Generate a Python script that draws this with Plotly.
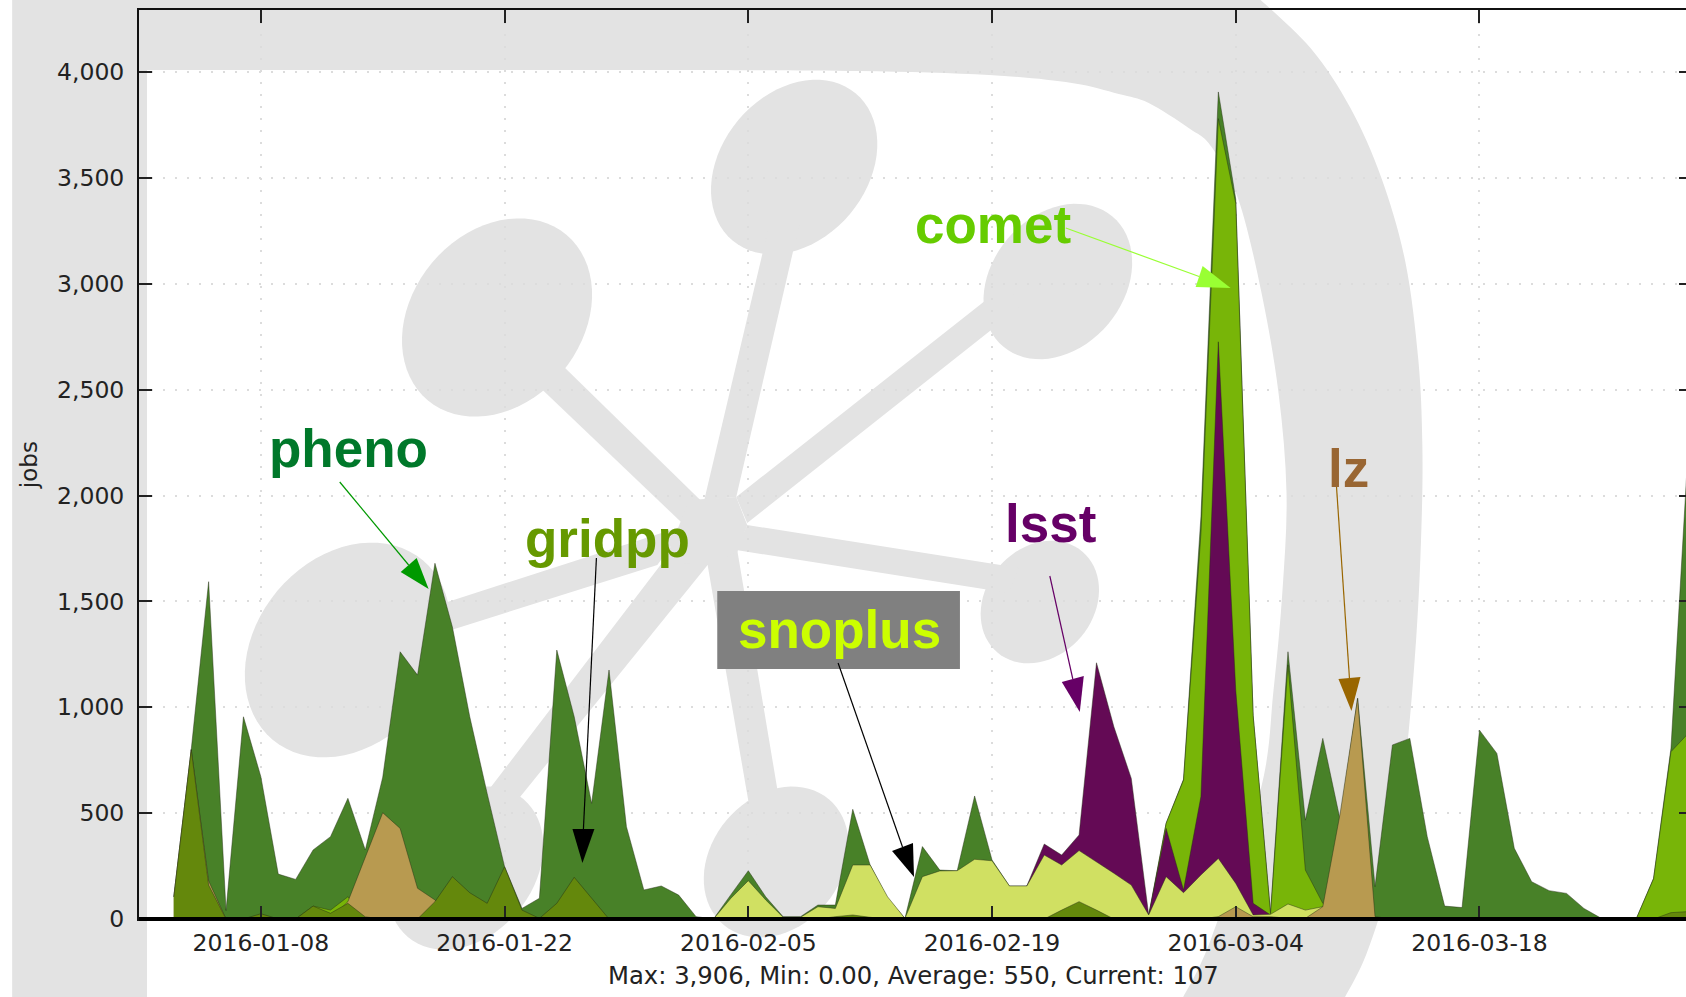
import numpy as np
import pandas as pd
import plotly.graph_objects as go

# ---- data (daily values, first point 2016-01-03) ----
START_DATE = "2016-01-03"
pheno = [105,800,1593,40,955,672,212,187,326,389,
         570,326,670,1262,1152,1680,1380,955,593,247,
         50,98,1270,955,546,1176,436,137,156,113,
         11,0,115,228,105,11,11,66,66,518,
         255,98,3,342,231,228,581,279,156,156,
         302,255,323,271,216,160,19,452,660,1900,
         3906,3400,960,27,1262,467,853,467,1042,153,
         822,853,389,61,54,892,782,334,176,134,
         121,50,3,0,0,192,806,2240]
comet = [0,0,0,0,0,0,0,0,61,42,
         105,0,0,0,0,0,0,0,0,0,
         0,0,0,0,0,0,0,0,0,0,
         0,0,0,0,0,0,0,0,0,0,
         0,0,0,0,0,0,0,0,0,0,
         0,0,0,0,0,0,10,452,656,1820,
         3780,3380,960,25,1200,231,74,10,0,0,
         0,0,0,0,0,0,0,0,0,0,
         0,0,0,0,0,190,790,877]
lsst = [0,0,0,0,0,0,0,0,0,0,
        0,0,0,0,0,0,0,0,0,0,
        0,0,0,0,0,0,0,0,0,0,
        0,0,0,0,0,0,0,0,0,0,
        0,0,0,0,0,0,0,0,0,156,
        354,302,397,1210,908,664,19,428,137,578,
        2726,1080,74,19,0,0,0,0,0,0,
        0,0,0,0,0,0,0,0,0,0,
        0,0,0,0,0,0,0,0]
snoplus = [0,0,0,0,0,0,0,0,0,0,
           0,0,0,0,0,0,0,0,0,0,
           0,0,0,0,0,0,0,0,0,0,
           0,0,98,181,90,8,8,58,50,255,
           255,105,3,200,227,228,282,275,156,156,
           302,255,323,271,216,160,19,200,124,208,
           286,168,19,22,71,42,58,0,0,0,
           0,0,0,0,0,0,0,0,0,0,
           0,0,0,0,0,0,0,0]
lz = [105,800,180,0,0,0,0,0,0,0,
      82,294,502,428,145,90,0,0,0,0,
      0,0,0,0,0,0,0,0,0,0,
      0,0,0,0,0,0,0,0,0,0,
      0,0,0,0,0,0,0,0,0,0,
      0,0,0,0,0,0,0,0,0,0,
      11,58,11,11,3,3,58,500,1042,11,
      0,0,0,0,0,0,0,0,0,0,
      0,0,0,0,0,0,0,0]
gridpp = [105,800,160,0,0,25,0,0,61,27,
          74,10,0,0,0,82,200,124,74,247,
          42,3,74,197,98,0,0,0,0,0,
          0,0,0,0,0,0,0,0,11,19,
          8,0,0,0,0,0,0,0,0,0,
          0,42,82,42,0,0,0,0,0,0,
          0,0,0,0,0,0,0,0,0,0,
          0,0,0,0,0,0,0,0,0,0,
          0,0,0,0,0,0,30,35]
y_ticks = [0, 500, 1000, 1500, 2000, 2500, 3000, 3500, 4000]
x_ticks = ["2016-01-08", "2016-01-22", "2016-02-05", "2016-02-19", "2016-03-04", "2016-03-18"]
summary = "Max: 3,906, Min: 0.00, Average: 550, Current: 107"
y_title = "jobs"

# ---- style ----
series = [("pheno", pheno, "#488128"), ("comet", comet, "#78b508"), ("lsst", lsst, "#640a55"),
          ("snoplus", snoplus, "#d0e062"), ("lz", lz, "#b89a50"), ("gridpp", gridpp, "#64880c")]
W, H = 1700, 997
L, R, T, B = 139, 1694, 10, 919
GRAY = "#e3e3e3"

def px(x): return (x - L) / (R - L)
def py(y): return (B - y) / (B - T)

def smooth(points):
    """Catmull-Rom path through pixel points, in paper coordinates."""
    p = [(px(a), py(b)) for a, b in points]
    s = f"M{p[0][0]:.5f},{p[0][1]:.5f}"
    for i in range(len(p) - 1):
        p0 = p[max(i - 1, 0)]; p1 = p[i]; p2 = p[i + 1]; p3 = p[min(i + 2, len(p) - 1)]
        c1 = (p1[0] + (p2[0] - p0[0]) / 6, p1[1] + (p2[1] - p0[1]) / 6)
        c2 = (p2[0] - (p3[0] - p1[0]) / 6, p2[1] - (p3[1] - p1[1]) / 6)
        s += f" C{c1[0]:.5f},{c1[1]:.5f} {c2[0]:.5f},{c2[1]:.5f} {p2[0]:.5f},{p2[1]:.5f}"
    return s

def poly(points):
    return "M" + " L".join(f"{px(a):.5f},{py(b):.5f}" for a, b in points) + " Z"

def ellipse(cx, cy, a, b, deg=50):
    t = np.linspace(0, 2 * np.pi, 72, endpoint=False)
    r = np.radians(deg)
    xs = cx + a * np.cos(t) * np.cos(r) - b * np.sin(t) * np.sin(r)
    ys = cy - a * np.cos(t) * np.sin(r) - b * np.sin(t) * np.cos(r)
    return poly(list(zip(xs, ys)))

def fill_shape(path, color=GRAY, layer="below"):
    return dict(type="path", path=path, xref="paper", yref="paper", layer=layer,
                fillcolor=color, line=dict(width=0))

outer_arc = [(1260, -2), (1312, 48), (1352, 108), (1383, 178), (1407, 262), (1420, 360), (1424, 445), (1423, 530),
             (1418, 636), (1407, 763), (1390, 880), (1368, 954), (1345, 1000)]
inner_arc = [(700, 70), (860, 71), (990, 75), (1073, 83), (1120, 94), (1150, 103), (1190, 128), (1213, 147),
             (1240, 200), (1263, 293), (1280, 393), (1288, 493), (1284, 590), (1275, 690), (1262, 790),
             (1212, 940), (1183, 1000)]
outer = smooth(outer_arc) + " " + poly([(12, 1000), (12, -2)]).replace("M", "L")
inner = poly([(147, 1000), (147, 70)]).replace(" Z", "") + " " + smooth(inner_arc).replace("M", "L", 1) + " Z"

shapes = [fill_shape(outer), fill_shape(inner, "#ffffff")]
for e in [(497.5, 317.5, 108, 85), (795, 167, 96, 73), (1059, 281.5, 85, 66), (1041, 602, 66, 54),
          (348, 650, 117, 92), (777, 862, 82, 65), (466, 868, 90, 68)]:
    shapes.append(fill_shape(ellipse(*e)))
for sp in [[(540, 343), (703, 502), (687, 527), (518, 366)],
           [(770, 225), (800, 225), (737, 497), (705, 500)],
           [(1010, 282), (1020, 308), (748, 523), (737, 497)],
           [(748, 525), (1020, 568), (1010, 593), (737, 550)],
           [(420, 611), (687, 525), (658, 565), (420, 640)],
           [(708, 563), (738, 550), (785, 830), (755, 835)],
           [(665, 560), (710, 563), (510, 810), (470, 815)],
           [(690, 500), (737, 497), (748, 525), (738, 552), (708, 565), (665, 562)]]:
    shapes.append(fill_shape(poly(sp)))

# ---- annotation arrows ----
arrows = [((340, 482), (429, 589), (417, 558), (401, 572), "#009900"),
          ((597, 558), (583, 863), (573, 829), (595, 829), "#000000"),
          ((839, 663), (915, 877), (893, 851), (914, 843), "#000000"),
          ((1051, 576), (1081, 712), (1063, 682), (1085, 676), "#660066"),
          ((1067, 228), (1232, 288), (1197, 287), (1204, 266), "#99ff33"),
          ((1338, 486), (1353, 711), (1340, 679), (1362, 677), "#996600")]
shapes.append(dict(type="rect", xref="paper", yref="paper", x0=px(718), x1=px(961), y0=py(669), y1=py(591),
                   fillcolor="#808080", line=dict(width=0), layer="above"))
for start, tip, b1, b2, col in arrows:
    mid = ((b1[0] + b2[0]) / 2, (b1[1] + b2[1]) / 2)
    shapes.append(dict(type="line", xref="paper", yref="paper", x0=px(start[0]), y0=py(start[1]),
                       x1=px(mid[0]), y1=py(mid[1]), line=dict(color=col, width=1.2), layer="above"))
    shapes.append(fill_shape(poly([tip, b1, b2]), col, "above"))
shapes.append(dict(type="line", xref="paper", yref="paper", x0=0, x1=1, y0=0, y1=0,
                   line=dict(color="#000000", width=4), layer="above"))

# ---- figure ----
dates = pd.date_range(START_DATE, periods=len(pheno), freq="D")
fig = go.Figure()
for name, vals, col in series:
    fig.add_trace(go.Scatter(x=dates, y=vals, name=name, mode="lines", fill="tozeroy", fillcolor=col,
                             line=dict(color="rgba(35,45,20,0.45)", width=1), hoverinfo="skip"))

def label(text, xc, baseline, col, size=53):
    # y is the middle of the text box; box middle sits about 0.35 em above the baseline
    return dict(text=f"<b>{text}</b>", x=px(xc), y=py(baseline - 0.35 * size), xref="paper", yref="paper",
                xanchor="center", yanchor="middle", showarrow=False,
                font=dict(family="Liberation Sans", size=size, color=col))

annotations = [label("pheno", 348.5, 467, "#00782a"), label("gridpp", 608, 557, "#669900"),
               label("snoplus", 840, 648, "#ccff00"), label("lsst", 1052, 542, "#660066"),
               label("comet", 994, 243, "#66cc00"), label("lz", 1350, 487, "#996633"),
               dict(text=summary, x=px(914), y=py(975), xref="paper", yref="paper", xanchor="center",
                    yanchor="middle", showarrow=False, font=dict(family="DejaVu Sans", size=24.3, color="#222222")),
               dict(text=y_title, x=px(29), y=py(465), xref="paper", yref="paper", xanchor="center",
                    yanchor="middle", showarrow=False, textangle=-90,
                    font=dict(family="DejaVu Sans", size=23, color="#222222"))]

axis_common = dict(showline=True, linecolor="#111111", linewidth=2, mirror="ticks", ticks="inside", ticklen=13,
                   tickwidth=1.5, tickcolor="#222222", showgrid=True, gridcolor="#dcdcdc", griddash="2px,10px",
                   gridwidth=2, zeroline=False, tickfont=dict(family="DejaVu Sans", size=23.5, color="#222222"))
fig.update_layout(width=W, height=H, margin=dict(l=L, r=W - R, t=T, b=H - B), showlegend=False,
                  paper_bgcolor="#ffffff", plot_bgcolor="rgba(0,0,0,0)", shapes=shapes, annotations=annotations,
                  xaxis=dict(range=["2016-01-01", "2016-03-30 05:00"], tickmode="array", tickvals=x_ticks,
                             ticktext=x_ticks, ticklabelstandoff=2, **axis_common),
                  yaxis=dict(range=[0, 4293], tickmode="array", tickvals=y_ticks, tickformat=",d",
                             ticklabelstandoff=8, **axis_common))
fig.write_html("out.html", config=dict(displayModeBar=False),
               post_script="document.body.style.margin='0';document.body.style.overflow='hidden';")
